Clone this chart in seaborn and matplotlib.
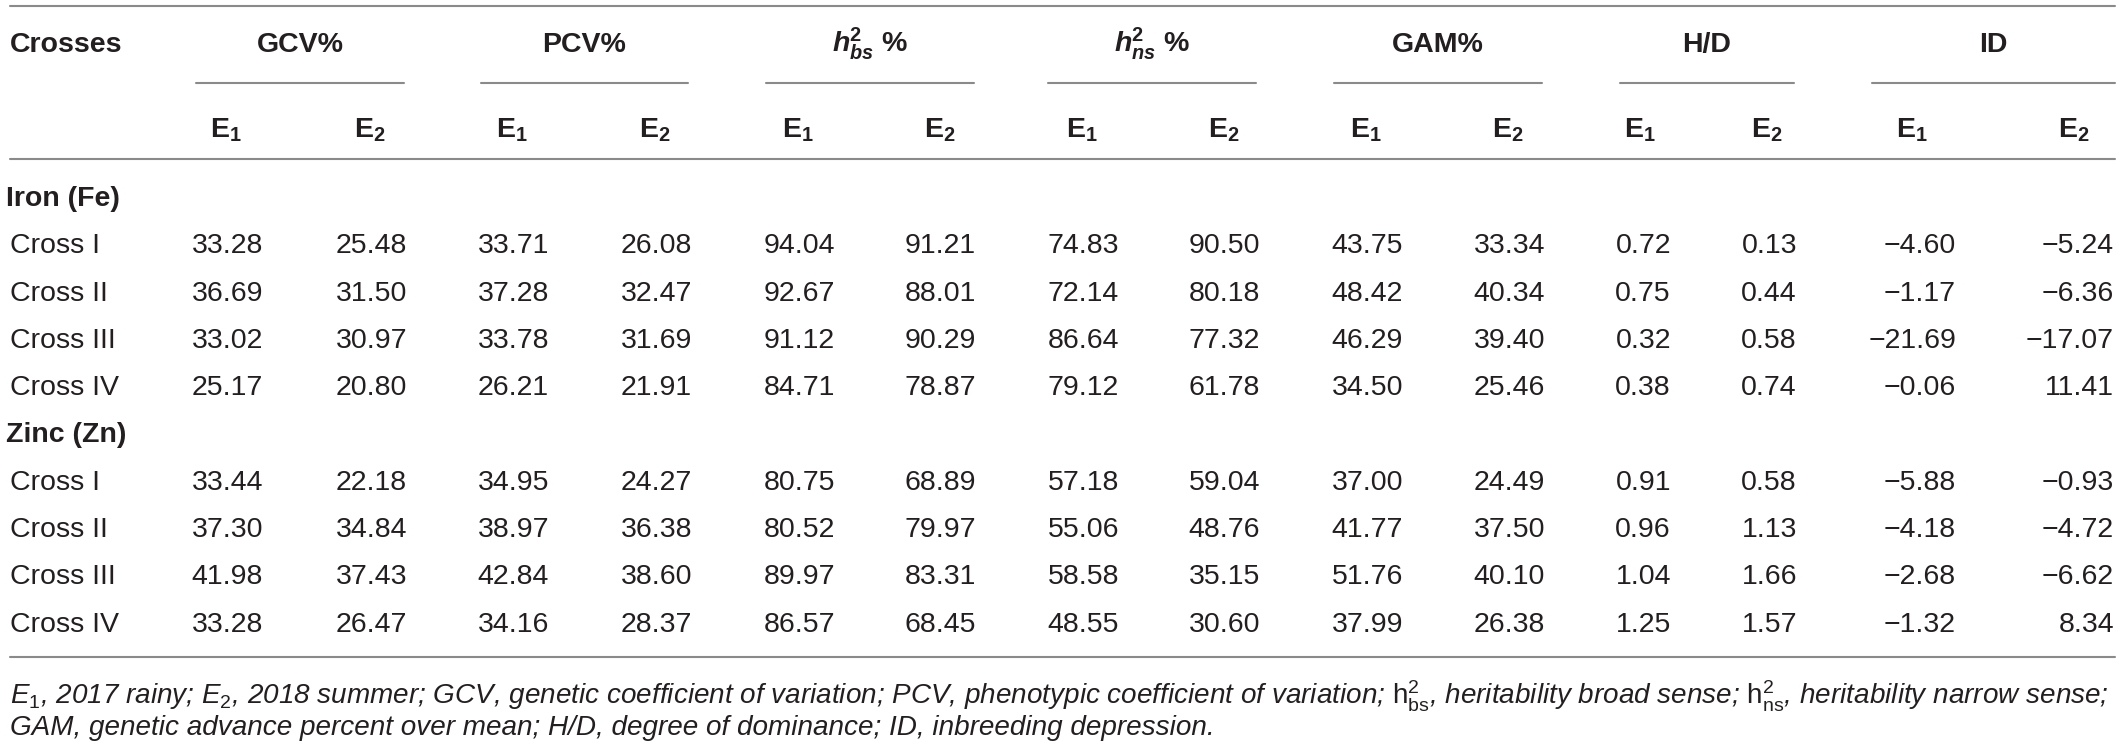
import numpy as np
import pandas as pd
import matplotlib
matplotlib.use("Agg")
import matplotlib.pyplot as plt
import seaborn as sns

# ---------------- data ----------------
crosses = ["Cross I", "Cross II", "Cross III", "Cross IV"]
elements = ["Iron (Fe)", "Zinc (Zn)"]
params = ["GCV%", "PCV%", "hbs", "hns", "GAM%", "H/D", "ID"]

fe_gcv_e1 = [33.28, 36.69, 33.02, 25.17]
fe_gcv_e2 = [25.48, 31.50, 30.97, 20.80]
fe_pcv_e1 = [33.71, 37.28, 33.78, 26.21]
fe_pcv_e2 = [26.08, 32.47, 31.69, 21.91]
fe_hbs_e1 = [94.04, 92.67, 91.12, 84.71]
fe_hbs_e2 = [91.21, 88.01, 90.29, 78.87]
fe_hns_e1 = [74.83, 72.14, 86.64, 79.12]
fe_hns_e2 = [90.50, 80.18, 77.32, 61.78]
fe_gam_e1 = [43.75, 48.42, 46.29, 34.50]
fe_gam_e2 = [33.34, 40.34, 39.40, 25.46]
fe_hd_e1 = [0.72, 0.75, 0.32, 0.38]
fe_hd_e2 = [0.13, 0.44, 0.58, 0.74]
fe_id_e1 = [-4.60, -1.17, -21.69, -0.06]
fe_id_e2 = [-5.24, -6.36, -17.07, 11.41]

zn_gcv_e1 = [33.44, 37.30, 41.98, 33.28]
zn_gcv_e2 = [22.18, 34.84, 37.43, 26.47]
zn_pcv_e1 = [34.95, 38.97, 42.84, 34.16]
zn_pcv_e2 = [24.27, 36.38, 38.60, 28.37]
zn_hbs_e1 = [80.75, 80.52, 89.97, 86.57]
zn_hbs_e2 = [68.89, 79.97, 83.31, 68.45]
zn_hns_e1 = [57.18, 55.06, 58.58, 48.55]
zn_hns_e2 = [59.04, 48.76, 35.15, 30.60]
zn_gam_e1 = [37.00, 41.77, 51.76, 37.99]
zn_gam_e2 = [24.49, 37.50, 40.10, 26.38]
zn_hd_e1 = [0.91, 0.96, 1.04, 1.25]
zn_hd_e2 = [0.58, 1.13, 1.66, 1.57]
zn_id_e1 = [-5.88, -4.18, -2.68, -1.32]
zn_id_e2 = [-0.93, -4.72, -6.62, 8.34]

fe_cols = [fe_gcv_e1, fe_gcv_e2, fe_pcv_e1, fe_pcv_e2, fe_hbs_e1, fe_hbs_e2,
           fe_hns_e1, fe_hns_e2, fe_gam_e1, fe_gam_e2, fe_hd_e1, fe_hd_e2,
           fe_id_e1, fe_id_e2]
zn_cols = [zn_gcv_e1, zn_gcv_e2, zn_pcv_e1, zn_pcv_e2, zn_hbs_e1, zn_hbs_e2,
           zn_hns_e1, zn_hns_e2, zn_gam_e1, zn_gam_e2, zn_hd_e1, zn_hd_e2,
           zn_id_e1, zn_id_e2]

col_keys = [f"{p}_{e}" for p in params for e in ("E1", "E2")]
frames = []
for el, cols in zip(elements, [fe_cols, zn_cols]):
    d = pd.DataFrame(dict(zip(col_keys, cols)))
    d.insert(0, "Cross", crosses)
    d.insert(0, "Element", el)
    frames.append(d)
df = pd.concat(frames, ignore_index=True)

footnote1 = (r"$E_1$, 2017 rainy; $E_2$, 2018 summer; GCV, genetic coefficient of variation; "
             r"PCV, phenotypic coefficient of variation; $\mathrm{h}^{2}_{\mathrm{bs}}$, heritability broad sense; "
             r"$\mathrm{h}^{2}_{\mathrm{ns}}$, heritability narrow sense;")
footnote2 = "GAM, genetic advance percent over mean; H/D, degree of dominance; ID, inbreeding depression."

# ---------------- style ----------------
sns.set_theme(style="white")
plt.rcParams["font.family"] = ["Liberation Sans", "DejaVu Sans"]
plt.rcParams["mathtext.fontset"] = "custom"
plt.rcParams["mathtext.rm"] = "Liberation Sans"
plt.rcParams["mathtext.it"] = "Liberation Sans:italic"
plt.rcParams["mathtext.bf"] = "Liberation Sans:bold"
plt.rcParams["mathtext.bfit"] = "Liberation Sans:bold:italic"

W, H = 2121, 747
fig = plt.figure(figsize=(W / 100, H / 100), dpi=100)
ax = fig.add_axes([0, 0, 1, 1])
ax.set_xlim(0, W)
ax.set_ylim(H, 0)
ax.axis("off")

txt = "#231f20"
line_c = "#8a8a8a"
fs = 20.5
fs_b = 20.5
cap = 10  # half cap-height in px -> baseline offset

# layout
right_edges = [263, 407, 549, 692, 835, 976, 1119, 1260, 1403, 1545, 1671, 1797, 1956, 2114]
e_centers = [226, 370, 512, 655, 798, 940, 1082, 1224, 1366, 1508, 1640, 1767, 1912, 2074]
grp_spans = [(196, 404), (481, 688), (766, 974), (1048, 1256), (1334, 1542), (1620, 1794), (1872, 2115)]
grp_labels = ["GCV%", "PCV%", r"$\mathbfit{h}^{\mathbf{2}}_{\mathbfit{bs}}$ %",
              r"$\mathbfit{h}^{\mathbf{2}}_{\mathbfit{ns}}$ %", "GAM%", "H/D", "ID"]
x0, x1 = 10, 2115

ax.plot([x0, x1], [6, 6], color=line_c, lw=1.5)
ax.text(x0, 42 + cap, "Crosses", ha="left", va="baseline", fontsize=fs_b, fontweight="bold", color=txt)
for (a, b), lab in zip(grp_spans, grp_labels):
    ax.text((a + b) / 2, 42 + cap, lab, ha="center", va="baseline", fontsize=fs_b,
            fontweight="bold", color=txt)
    ax.plot([a, b], [83, 83], color=line_c, lw=1.5)
for i, xc in enumerate(e_centers):
    lab = r"$\mathbf{E_1}$" if i % 2 == 0 else r"$\mathbf{E_2}$"
    ax.text(xc, 127 + cap, lab, ha="center", va="baseline", fontsize=fs_b, color=txt)
ax.plot([x0, x1], [159, 159], color=line_c, lw=1.5)

row_y0, row_dy = 196, 47.3
r = 0
for el in elements:
    y = row_y0 + r * row_dy
    ax.text(6, y + cap, el, ha="left", va="baseline", fontsize=fs_b, fontweight="bold", color=txt)
    r += 1
    sub = df[df["Element"] == el]
    for _, row in sub.iterrows():
        y = row_y0 + r * row_dy
        ax.text(x0, y + cap, row["Cross"], ha="left", va="baseline", fontsize=fs, color=txt)
        for k, key in enumerate(col_keys):
            s = f"{row[key]:.2f}".replace("-", "\u2212")
            ax.text(right_edges[k], y + cap, s, ha="right", va="baseline", fontsize=fs, color=txt)
        r += 1

ax.plot([x0, x1], [657, 657], color=line_c, lw=1.5)

t1 = ax.text(x0, 694 + cap, footnote1, ha="left", va="baseline", fontsize=fs,
             fontstyle="italic", color=txt)
t2 = ax.text(x0, 725 + cap, footnote2, ha="left", va="baseline", fontsize=fs,
             fontstyle="italic", color=txt)
fig.canvas.draw()
w1 = t1.get_window_extent().width
scale = (2107 - x0) / w1
t1.set_fontsize(fs * scale)
t2.set_fontsize(fs * scale)

fig.savefig("out.png", dpi=100, facecolor="white")
